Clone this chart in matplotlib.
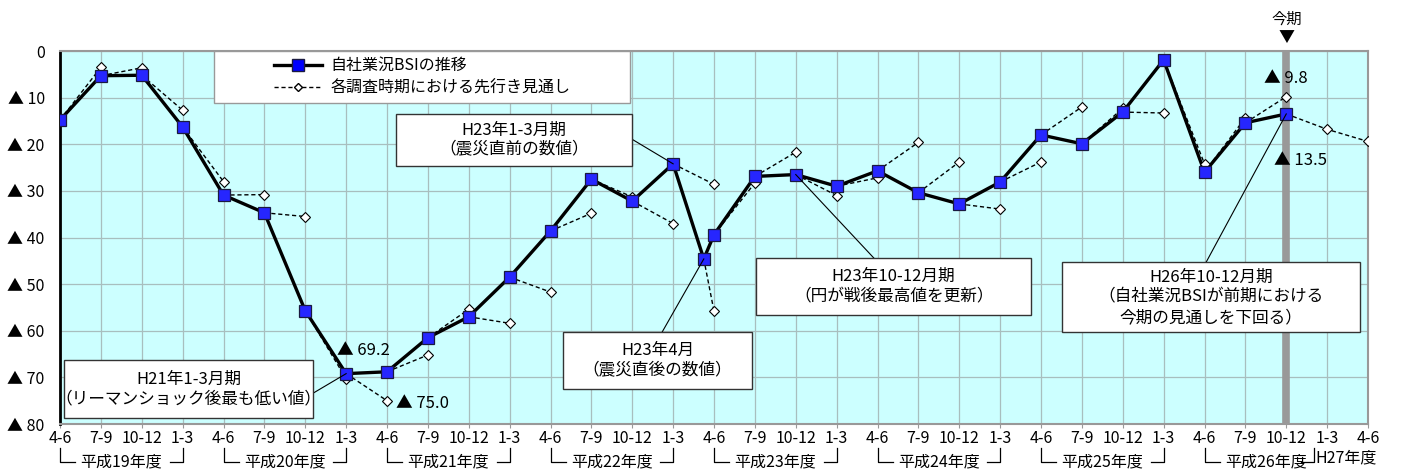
import matplotlib
matplotlib.use("Agg")
import matplotlib.pyplot as plt
from matplotlib.lines import Line2D
from matplotlib.patches import Rectangle
import matplotlib.transforms as mtransforms

plt.rcParams['font.family'] = ['Noto Sans CJK JP', 'DejaVu Sans']

# quarter tick labels (H19 4-6 ... H27 4-6)
quarters = ['4-6', '7-9', '10-12', '1-3'] * 8 + ['4-6']
fiscal_years = ['平成19年度', '平成20年度', '平成21年度', '平成22年度',
                '平成23年度', '平成24年度', '平成25年度', '平成26年度']

# 自社業況BSI (▲ values), position 15.75 = H23年4月 (震災直後)
bsi_x = [0, 1, 2, 3, 4, 5, 6, 7, 8, 9, 10, 11, 12, 13, 14, 15, 15.75,
         16, 17, 18, 19, 20, 21, 22, 23, 24, 25, 26, 27, 28, 29, 30]
bsi_val = [14.8, 5.3, 5.2, 16.3, 30.9, 34.7, 55.7, 69.2, 68.8, 61.5, 57.0,
           48.5, 38.6, 27.5, 32.2, 24.2, 44.6, 39.4, 26.9, 26.5, 29.0,
           25.7, 30.4, 32.8, 28.1, 18.0, 19.9, 13.1, 1.9, 26.0, 15.4, 13.5]
# forecast for the next quarter made at each survey
fc_next = [3.5, 3.6, 12.7, 28.0, 30.8, 35.5, 70.3, 75.0, 65.2, 55.4, 58.4,
           51.7, 34.8, 31.3, 37.0, 28.6, 55.8, 28.3, 21.7, 31.0, 27.2,
           19.6, 23.8, 33.9, 23.8, 12.0, 12.3, 13.3, 24.2, 14.3, 9.8]
# latest survey: forecast for the two following quarters
fc_last = [16.8, 19.4]

fig = plt.figure(figsize=(14.05, 4.71), dpi=100)
ax = fig.add_axes([60 / 1405, 1 - 424 / 471, 1308 / 1405, 373 / 471])
ax.set_facecolor('#CCFFFF')
ax.set_xlim(0, 32)
ax.set_ylim(-80, 0)

ax.set_xticks(range(len(quarters)))
ax.set_xticklabels(quarters, fontsize=11.5)
ax.set_yticks(range(-80, 1, 10))
ax.set_yticklabels(['▲ %d' % -v if v else '0' for v in range(-80, 1, 10)], fontsize=11.5)
ax.tick_params(axis='x', length=3, color='#999999', pad=1)
ax.tick_params(axis='y', length=0, pad=11)
ax.grid(color='#A8BEBE', linewidth=0.9)
ax.set_axisbelow(True)
for side in ['top', 'right', 'bottom']:
    ax.spines[side].set_color('#999999')
    ax.spines[side].set_linewidth(1.5)
ax.spines['left'].set_color('black')
ax.spines['left'].set_linewidth(2)

# current period band
ax.axvline(30, color='#999999', linewidth=5.5, zorder=1.5)
ax.text(30, 1.035, '▼', transform=ax.get_xaxis_transform(), ha='center', va='center', fontsize=11.5)
ax.text(30, 1.085, '今期', transform=ax.get_xaxis_transform(), ha='center', va='center', fontsize=11)

neg = [-v for v in bsi_val]
ax.plot(bsi_x, neg, color='black', linewidth=2.4, zorder=3, solid_joinstyle='miter')

# forecast dashed segments
for x0, v0, f in zip(bsi_x, neg, fc_next):
    x1 = int(x0) + 1
    ax.plot([x0, x1], [v0, -f], color='black', linestyle=(0, (3, 2)), linewidth=1.0,
            marker='D', markersize=5.5, markerfacecolor='white', markeredgecolor='black',
            markeredgewidth=0.8, markevery=[1], zorder=4)
ax.plot([bsi_x[-1], bsi_x[-1] + 1, bsi_x[-1] + 2], [neg[-1]] + [-v for v in fc_last],
        color='black', linestyle=(0, (3, 2)), linewidth=1.0, marker='D', markersize=5.5,
        markerfacecolor='white', markeredgecolor='black', markeredgewidth=0.8,
        markevery=[1, 2], zorder=4)

ax.plot(bsi_x, neg, linestyle='none', marker='s', markersize=8.5,
        markerfacecolor='#2626FF', markeredgecolor='#1a1a40', markeredgewidth=0.9, zorder=5)

# value labels
ax.text(29.45, -5.9, '▲ 9.8', ha='left', va='center', fontsize=12, zorder=6)
ax.text(29.7, -23.4, '▲ 13.5', ha='left', va='center', fontsize=12, zorder=6)
ax.text(6.78, -64.3, '▲ 69.2', ha='left', va='center', fontsize=12, zorder=6)
ax.text(8.22, -75.6, '▲ 75.0', ha='left', va='center', fontsize=12, zorder=6)

# callout boxes: (x0, x1, top, bottom, text, anchor on box, target index)
boxes = [
    (8.22, 13.99, 13.5, 24.7, 'H23年1-3月期\n（震災直前の数値）', (13.99, 18.9), 15),
    (0.10, 6.19, 66.3, 78.7, 'H21年1-3月期\n（リーマンショック後最も低い値）', (6.19, 73.4), 7),
    (12.31, 16.93, 60.3, 72.5, 'H23年4月\n（震災直後の数値）', (14.73, 60.3), 16),
    (17.03, 23.76, 44.4, 56.6, 'H23年10-12月期\n（円が戦後最高値を更新）', (19.91, 44.4), 19),
    (24.51, 31.80, 45.3, 60.3, 'H26年10-12月期\n（自社業況BSIが前期における\n今期の見通しを下回る）', (28.04, 45.3), 31),
]
for x0, x1, top, bot, txt, anc, idx in boxes:
    ax.add_patch(Rectangle((x0, -bot), x1 - x0, bot - top, facecolor='white',
                           edgecolor='#333333', linewidth=1.0, zorder=7))
    ax.text((x0 + x1) / 2, -(top + bot) / 2, txt, ha='center', va='center',
            fontsize=12, linespacing=1.25, zorder=8)
    ax.plot([anc[0], bsi_x[idx]], [-anc[1], neg[idx]], color='black', linewidth=0.8, zorder=6)

# legend
ax.add_patch(Rectangle((0.118, 0.861), 0.318, 0.139, transform=ax.transAxes,
                       facecolor='white', edgecolor='#999999', linewidth=1.0, zorder=9))
handles = [
    Line2D([], [], color='black', linewidth=2.4, marker='s', markersize=8,
           markerfacecolor='#0000FF', markeredgecolor='#1a1a40'),
    Line2D([], [], color='black', linewidth=1.0, linestyle=(0, (3, 2)), marker='D',
           markersize=4.5, markerfacecolor='white', markeredgecolor='black'),
]
leg = ax.legend(handles, ['自社業況BSIの推移', '各調査時期における先行き見通し'],
                loc='center', bbox_to_anchor=(0.277, 0.93), frameon=False,
                fontsize=11.5, handlelength=3.0, handletextpad=0.5, labelspacing=0.35)
leg.set_zorder(10)

# fiscal year brackets under the axis
trans = mtransforms.blended_transform_factory(ax.transData, ax.transAxes)
ytop, ybot = -0.064, -0.101
for i, fy in enumerate(fiscal_years):
    s = 4 * i
    e = s + 3 if i < len(fiscal_years) - 1 else s + 2.68
    ax.plot([s, s, s + 0.37], [ytop, ybot, ybot], color='black', linewidth=0.9,
            transform=trans, clip_on=False)
    ax.plot([e - 0.32, e, e], [ybot, ybot, ytop], color='black', linewidth=0.9,
            transform=trans, clip_on=False)
    ax.text(s + 1.5, ybot, fy, transform=trans, ha='center', va='center', fontsize=11.5)
ax.text(30.72, ybot + 0.01, 'H27年度', transform=trans, ha='left', va='center', fontsize=11.5)

fig.savefig('out.png', dpi=100)
